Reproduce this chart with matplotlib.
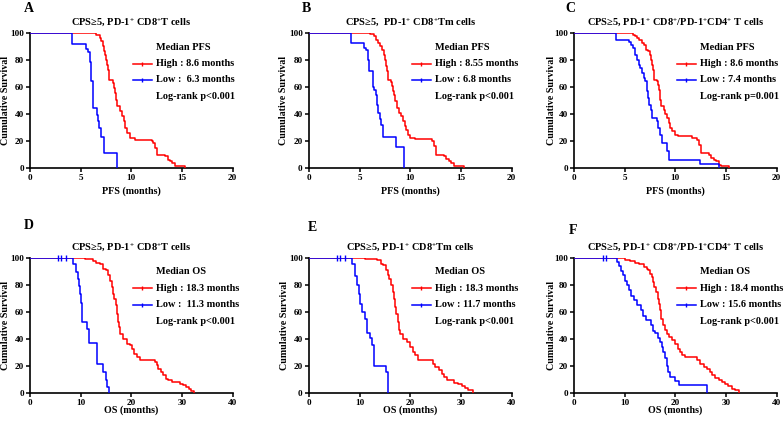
import matplotlib
matplotlib.use("Agg")
import matplotlib.pyplot as plt

plt.rcParams['font.family'] = ['Liberation Serif', 'DejaVu Serif']
plt.rcParams['font.weight'] = 'bold'
plt.rcParams['mathtext.default'] = 'regular'

# ---------------- data ----------------
A_high_t = [0, 6.5, 6.9, 7.05, 7.2, 7.3, 7.45, 7.55, 7.65, 7.7, 7.8, 8.2, 8.3, 8.43, 8.53, 8.63, 8.86, 9.1, 9.3, 9.42, 9.6, 9.85, 10.35, 12.0, 12.15, 12.3, 12.5, 13.3, 13.6, 13.8, 14.0, 14.3, 15.3]
A_high_s = [100, 98.5, 96.3, 93.8, 90, 86.4, 84, 80, 76.5, 72.8, 65.4, 63, 59.3, 55.6, 50.6, 45.7, 42, 38.3, 34.6, 29.6, 26, 22.2, 21, 19.8, 18.5, 14.8, 9.9, 8.6, 6.2, 5, 3.7, 1.2, 0]
A_low_t = [0, 4.1, 5.55, 5.72, 5.9, 6.05, 6.25, 6.6, 6.72, 6.85, 7.0, 7.3, 8.6]
A_low_s = [100, 91.7, 87.8, 86.2, 78.5, 64.8, 44.5, 39.5, 34.5, 29.5, 23, 11, 0]

B_high_t = [0, 6.0, 6.4, 6.6, 6.8, 7.0, 7.2, 7.37, 7.47, 7.6, 7.7, 7.8, 8.1, 8.2, 8.3, 8.4, 8.5, 8.7, 8.85, 9.1, 9.3, 9.45, 9.57, 9.77, 10.0, 10.5, 12.1, 12.3, 12.5, 13.3, 13.55, 13.8, 14.0, 14.3, 15.3]
B_high_s = [100, 99, 97.5, 95, 92.6, 90, 87.6, 84, 80, 75.3, 71.6, 65.4, 63.7, 60.5, 56.8, 54.3, 49.4, 44.4, 40.7, 38.3, 34.6, 30.9, 28.4, 24.7, 22.2, 21.5, 19.8, 16, 9.9, 8.6, 6.7, 5, 3.7, 1.2, 0]
B_low_t = [0, 4.1, 5.46, 5.62, 5.78, 5.95, 6.3, 6.45, 6.6, 6.7, 6.85, 7.0, 7.15, 7.35, 8.6, 9.4]
B_low_s = [100, 92.5, 89, 87.5, 80, 72, 60, 57.5, 54, 47, 40.5, 36.5, 32, 23, 15.5, 0]

C_high_t = [0, 5.85, 6.05, 6.2, 6.4, 6.7, 6.9, 7.1, 7.3, 7.47, 7.6, 7.7, 7.8, 7.86, 8.2, 8.3, 8.4, 8.5, 8.6, 8.85, 9.0, 9.18, 9.34, 9.5, 9.67, 9.93, 10.3, 11.65, 12.1, 12.3, 12.5, 13.3, 13.55, 13.8, 14.0, 14.3, 14.5, 15.3]
C_high_s = [100, 98.8, 97.5, 96.3, 95, 92.6, 91.4, 87.6, 86.4, 84, 80, 76.5, 72.8, 65.4, 64.2, 61.7, 58, 50.6, 45.7, 43.2, 40, 37, 33.3, 29.6, 27.2, 24.7, 23.5, 22.2, 21, 17.3, 11, 9.9, 7.4, 6.2, 5, 2.5, 1.2, 0]
C_low_t = [0, 4.18, 5.46, 5.65, 5.8, 6.05, 6.2, 6.4, 6.55, 6.7, 6.87, 7.04, 7.2, 7.3, 7.43, 7.57, 7.7, 8.2, 8.3, 8.5, 8.68, 9.18, 9.4, 12.47, 14.3]
C_low_s = [100, 95, 93.3, 91.4, 88.9, 84, 80, 76.5, 74, 70.4, 66.7, 64.2, 56.8, 51.9, 46.9, 43.2, 37, 34.6, 29.6, 24.7, 18.5, 12.3, 6.2, 3, 0]

D_high_t = [0, 10.8, 11.8, 12.5, 13.1, 13.8, 14.5, 15.1, 15.4, 15.8, 16.1, 16.4, 16.6, 16.9, 17.1, 17.3, 17.6, 17.75, 18.4, 19.1, 19.7, 20.1, 20.6, 21.05, 21.7, 24.6, 25.0, 25.3, 25.9, 26.3, 26.9, 27.3, 28.0, 29.6, 30.3, 30.9, 31.4, 31.8, 32.3]
D_high_s = [100, 99.3, 98.8, 97.3, 96, 95, 91.9, 90.6, 87, 83, 78.3, 73.3, 69.6, 64.7, 58.5, 52.3, 48.6, 43.7, 40, 36.3, 35, 32.6, 28.9, 26.4, 24, 22.7, 20.2, 17.8, 15.3, 12.8, 10.4, 9.1, 7.9, 6.7, 5.4, 4.2, 2.5, 1.2, 0]
D_low_t = [0, 8.4, 9.0, 9.4, 9.65, 9.85, 10.05, 10.2, 10.35, 11.35, 11.6, 13.15, 14.45, 15.0, 15.3, 15.6]
D_low_s = [100, 95, 89.5, 84, 79, 73, 66.5, 60, 52.5, 47.5, 37, 21, 15.5, 9.3, 4.2, 0]
D_low_cens = [5.6, 6.1, 7.2]

E_high_t = [0, 11.0, 12.4, 13.4, 14.2, 14.7, 15.3, 15.6, 15.9, 16.2, 16.5, 16.8, 17.0, 17.2, 17.5, 17.7, 18.0, 18.55, 19.3, 20.0, 20.5, 21.0, 21.6, 24.5, 24.9, 25.6, 26.2, 26.7, 27.2, 28.6, 29.5, 30.2, 30.9, 31.5, 32.3]
E_high_s = [100, 99.3, 98.8, 98, 95.6, 94.3, 90.6, 87, 84.4, 79.5, 74.6, 69.6, 63.5, 58.5, 52.3, 46.2, 43.7, 40, 37.5, 33.8, 30.1, 27.7, 24.5, 21.5, 19, 16.5, 14.1, 11.6, 9.1, 7.4, 6.2, 4.9, 3.5, 1.7, 0]
E_low_t = [0, 8.45, 9.1, 9.5, 9.85, 10.1, 10.4, 11.05, 11.4, 12.0, 12.4, 12.75, 15.3, 15.6]
E_low_s = [100, 95, 86.6, 80, 73, 66, 59.5, 54.3, 44.4, 40.5, 35, 20, 15, 0]
E_low_cens = [5.6, 6.1, 7.2]

F_high_t = [0, 10.0, 11.1, 12.1, 12.8, 13.1, 13.75, 14.4, 14.7, 15.1, 15.4, 15.6, 15.9, 16.2, 16.5, 16.8, 17.0, 17.2, 17.5, 17.9, 18.4, 18.8, 19.3, 20.0, 20.5, 21.0, 21.3, 22.0, 24.3, 24.9, 25.6, 26.2, 26.8, 27.2, 27.9, 28.6, 29.2, 29.9, 30.5, 31.2, 31.8, 32.5]
F_high_s = [100, 98, 97.3, 96.3, 95.6, 95, 93, 91.9, 90.6, 88, 85.7, 82, 78.3, 74.6, 69.6, 65.9, 60.9, 54.8, 49.9, 46.2, 43.7, 41.2, 38.8, 36.3, 32.6, 30.1, 27.7, 26.4, 24, 21.5, 19, 17.3, 15.3, 12.8, 10.9, 9.1, 7.9, 6.2, 4.9, 3, 1.7, 0]
F_low_t = [0, 8.5, 8.9, 9.35, 9.7, 10.1, 10.5, 10.9, 11.3, 11.8, 12.5, 13.2, 13.6, 14.3, 15.3, 15.7, 16.0, 16.5, 17.0, 17.3, 17.6, 18.0, 18.3, 18.6, 19.0, 20.0, 20.7, 26.3]
F_low_s = [100, 96.8, 93.5, 90, 87, 83, 79.5, 76, 72, 68.5, 65, 61, 56.5, 53.5, 50, 46, 44, 40.5, 37.5, 34, 30.5, 25.5, 19.5, 15, 12, 8.5, 6, 0]
F_low_cens = [5.8, 6.3]

letters = ['A', 'B', 'C', 'D', 'E', 'F']
titles = ['CPS≥5, PD-1$^{+}$ CD8$^{+}$T cells',
          'CPS≥5,  PD-1$^{+}$ CD8$^{+}$Tm cells',
          'CPS≥5, PD-1$^{+}$ CD8$^{+}$/PD-1$^{+}$CD4$^{+}$ T cells',
          'CPS≥5, PD-1$^{+}$ CD8$^{+}$T cells',
          'CPS≥5, PD-1$^{+}$ CD8$^{+}$Tm cells',
          'CPS≥5, PD-1$^{+}$ CD8$^{+}$/PD-1$^{+}$CD4$^{+}$ T cells']
median_titles = ['Median PFS'] * 3 + ['Median OS'] * 3
high_labels = ['High : 8.6 months', 'High : 8.55 months', 'High : 8.6 months',
               'High : 18.3 months', 'High : 18.3 months', 'High : 18.4 months']
low_labels = ['Low :  6.3 months', 'Low : 6.8 months', 'Low : 7.4 months',
              'Low :  11.3 months', 'Low : 11.7 months', 'Low : 15.6 months']
pvals = ['Log-rank p<0.001', 'Log-rank p<0.001', 'Log-rank p=0.001',
         'Log-rank p<0.001', 'Log-rank p<0.001', 'Log-rank p<0.001']
xlabels = ['PFS (months)'] * 3 + ['OS (months)'] * 3
xmax = [20, 20, 20, 40, 40, 40]
xticks = [[0, 5, 10, 15, 20]] * 3 + [[0, 10, 20, 30, 40]] * 3
yticks = [0, 20, 40, 60, 80, 100]

series = [
    (A_high_t, A_high_s, A_low_t, A_low_s, []),
    (B_high_t, B_high_s, B_low_t, B_low_s, []),
    (C_high_t, C_high_s, C_low_t, C_low_s, []),
    (D_high_t, D_high_s, D_low_t, D_low_s, D_low_cens),
    (E_high_t, E_high_s, E_low_t, E_low_s, E_low_cens),
    (F_high_t, F_high_s, F_low_t, F_low_s, F_low_cens),
]

# ---------------- layout ----------------
W, H = 784, 421
fig = plt.figure(figsize=(W / 100, H / 100), dpi=100)
lefts = [30, 309, 574]
tops = [33, 257.7]
aw, ah = 202.5, 135
letter_pos = [(-0.03, 1.18), (-0.035, 1.18), (-0.045, 1.18),
              (-0.03, 1.235), (-0.005, 1.225), (-0.025, 1.20)]
ylab_x = [-0.098, -0.102, -0.089, -0.098, -0.097, -0.089]
xlab_y = [-0.135, -0.135, -0.135, -0.097, -0.097, -0.097]
RED = '#ff0000'
BLUE = '#0000ff'
FS = 7.4

for i in range(6):
    r, c = divmod(i, 3)
    ax = fig.add_axes([lefts[c] / W, (H - tops[r] - ah) / H, aw / W, ah / H])
    ht, hs, lt, ls, cens = series[i]
    ax.step(ht, hs, where='post', color=RED, lw=1.1, zorder=3)
    ax.step(lt, ls, where='post', color=BLUE, lw=1.1, zorder=4)
    if cens:
        ax.plot(cens, [100] * len(cens), linestyle='none', marker='|',
                color=BLUE, ms=4, mew=1.0, zorder=5, clip_on=False)
    ax.set_xlim(0, xmax[i])
    ax.set_ylim(0, 100)
    ax.set_xticks(xticks[i])
    ax.set_yticks(yticks)
    for s in ['top', 'right']:
        ax.spines[s].set_visible(False)
    for s in ['left', 'bottom']:
        ax.spines[s].set_linewidth(1.2)
    ax.tick_params(axis='both', which='major', length=3, width=1.1,
                   labelsize=6.6, pad=1.5)
    for lab in ax.get_xticklabels() + ax.get_yticklabels():
        lab.set_fontweight('bold')
    ax.set_xlabel(xlabels[i], fontsize=7.2, fontweight='bold')
    ax.xaxis.set_label_coords(0.5, xlab_y[i])
    ax.set_ylabel('Cumulative Survival', fontsize=7.2, fontweight='bold')
    ax.yaxis.set_label_coords(ylab_x[i], 0.5)
    ax.text(0.5, 1.075, titles[i], transform=ax.transAxes, ha='center',
            va='center', fontsize=7.5, fontweight='bold')
    ax.text(letter_pos[i][0], letter_pos[i][1], letters[i], transform=ax.transAxes,
            ha='left', va='center', fontsize=10, fontweight='bold')
    # legend block
    tx = 0.62
    ax.text(tx, 0.895, median_titles[i], transform=ax.transAxes, ha='left',
            va='center', fontsize=FS, fontweight='bold')
    for yy, col, lab in [(0.772, RED, high_labels[i]), (0.652, BLUE, low_labels[i])]:
        ax.plot([0.51, 0.60], [yy, yy], transform=ax.transAxes, color=col,
                lw=1.1, clip_on=False)
        ax.plot([0.555], [yy], transform=ax.transAxes, color=col, marker='|',
                ms=3.5, mew=1.0, clip_on=False)
        ax.text(tx, yy, lab, transform=ax.transAxes, ha='left', va='center',
                fontsize=FS, fontweight='bold')
    ax.text(tx, 0.527, pvals[i], transform=ax.transAxes, ha='left',
            va='center', fontsize=FS, fontweight='bold')

fig.savefig('out.png', dpi=100)
